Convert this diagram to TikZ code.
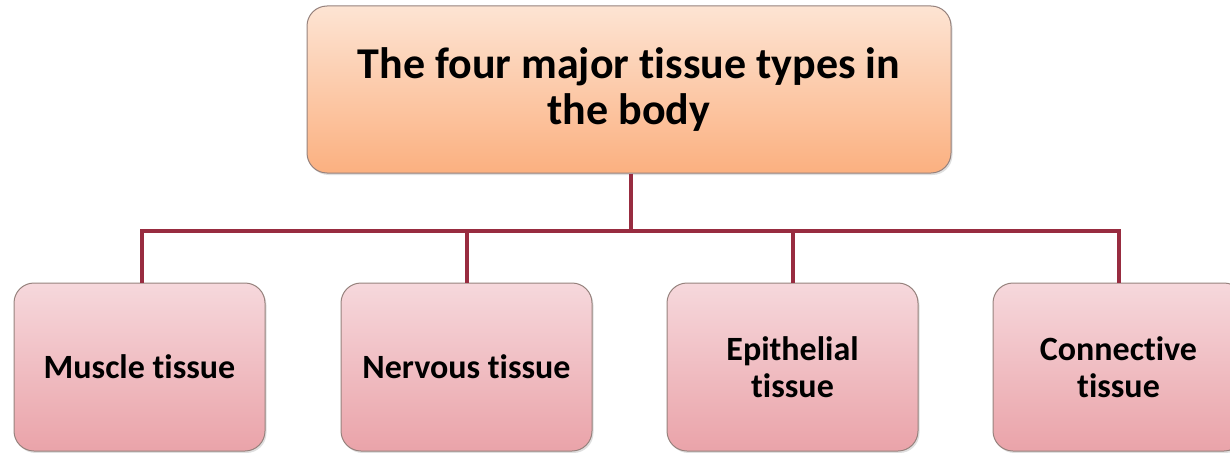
\documentclass[tikz,border=0pt]{standalone}
\usepackage{fontspec}
\setmainfont{Carlito}[Ligatures=NoCommon]
\usetikzlibrary{shadows}
\definecolor{peachtop}{RGB}{253,228,211}
\definecolor{peachbottom}{RGB}{251,176,128}
\definecolor{rosetop}{RGB}{246,216,220}
\definecolor{rosebottom}{RGB}{234,163,169}
\definecolor{linkred}{RGB}{152,44,64}
\definecolor{edgegrey}{RGB}{150,130,125}

\begin{document}
\begin{tikzpicture}[x=1pt, y=-1pt, font=\bfseries]
    \tikzstyle{box}=[draw=edgegrey, line width=1pt, rounded corners=20pt, align=center,
      drop shadow={opacity=0.25, shadow xshift=1.5pt, shadow yshift=-2pt}]
    \tikzstyle{titlebox}=[box, minimum width=644pt, minimum height=167pt,
      top color=peachtop, bottom color=peachbottom, font=\fontsize{44}{46}\bfseries\selectfont]
    \tikzstyle{tissuebox}=[box, minimum width=251pt, minimum height=168pt,
      top color=rosetop, bottom color=rosebottom, font=\fontsize{34}{37}\bfseries\selectfont]
    \tikzstyle{link}=[line width=4pt, color=linkred]

    \clip (0,0) rectangle (1230,452);

    \node[titlebox] (title) at (629,89.5) {The four major tissue types in\\the body};

    \node[tissuebox] (muscle) at (139.5,367) {Muscle tissue};
    \node[tissuebox] (nervous) at (466.5,367) {Nervous tissue};
    \node[tissuebox] (epithelial) at (792.5,367) {Epithelial\\tissue};
    \node[tissuebox] (connective) at (1118.5,367) {Connective\\tissue};

    \coordinate (hub) at (631,231);

    \draw[link] ([xshift=2pt]title.south) -- (hub);
    \draw[link] (hub) -| ([xshift=2pt]muscle.north);
    \draw[link] (hub) -| (nervous.north);
    \draw[link] (hub) -| (epithelial.north);
    \draw[link] (hub) -| (connective.north);
  \end{tikzpicture}
\end{document}
